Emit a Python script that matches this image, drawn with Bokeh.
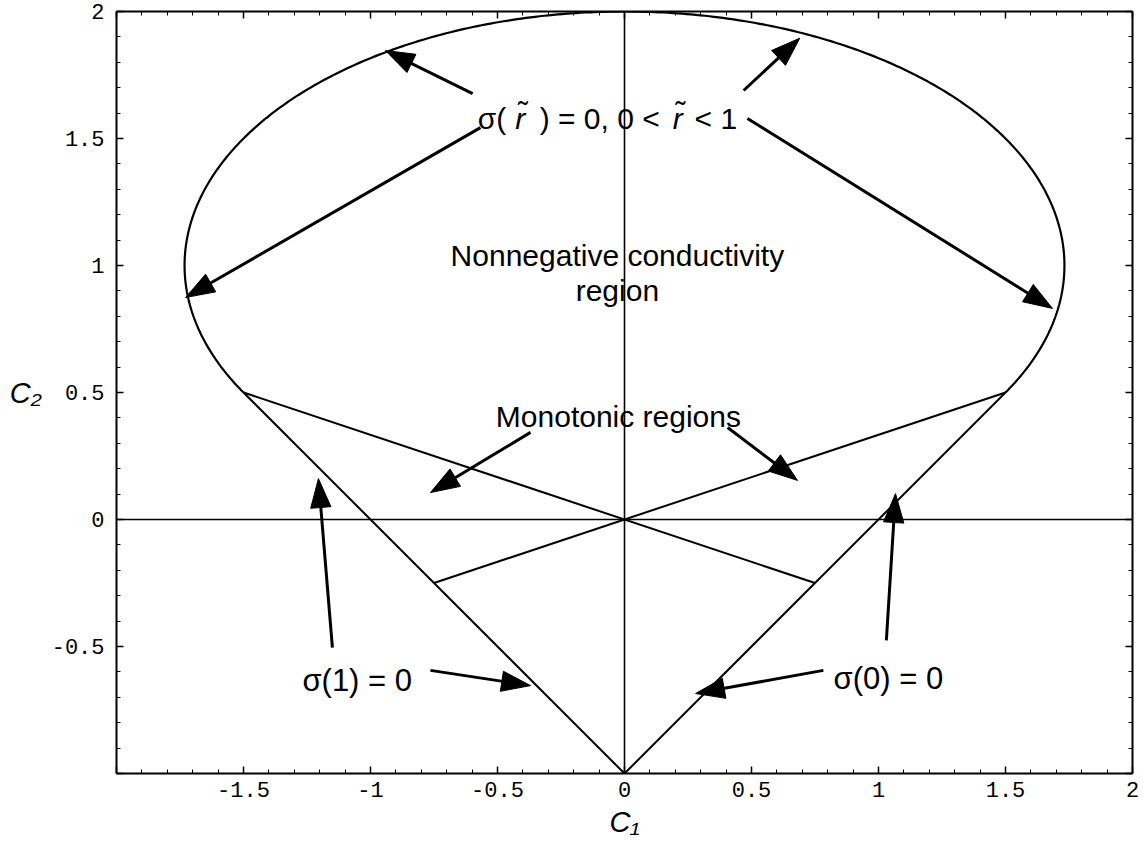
import numpy as np
from bokeh.plotting import figure
from bokeh.models import Label, LinearAxis, FixedTicker, Range1d
from bokeh.embed import file_html
from bokeh.resources import INLINE

# ---- axis ticks -------------------------------------------------------------
x_major = [-2.0, -1.5, -1.0, -0.5, 0.0, 0.5, 1.0, 1.5, 2.0]
x_tick_labels = ["", "-1.5", "-1", "-0.5", "0", "0.5", "1", "1.5", "2"]
y_major = [-1.0, -0.5, 0.0, 0.5, 1.0, 1.5, 2.0]
y_tick_labels = ["", "-0.5", "0", "0.5", "1", "1.5", "2"]
x_minor = [round(v, 1) for v in np.arange(-2.0, 2.05, 0.1)]
y_minor = [round(v, 1) for v in np.arange(-1.0, 2.05, 0.1)]
x_title = "C\u2081"
y_title = "C\u2082"

# ---- region boundaries in the (C1, C2) plane -------------------------------
# envelope of sigma(r)=0, 0<r<1 : ellipse C1^2/3 + (C2-1)^2 = 1
ellipse_center = (0.0, 1.0)
ellipse_semi_axes = (np.sqrt(3.0), 1.0)
ellipse_arc_deg = 120.0          # arc ends at the tangent points (+-1.5, 0.5)

sigma1_x = [-1.5, 0.0]           # sigma(1) = 0
sigma1_y = [0.5, -1.0]
sigma0_x = [1.5, 0.0]            # sigma(0) = 0
sigma0_y = [0.5, -1.0]
mono_a_x = [-1.5, 0.75]          # monotonic-region separators through origin
mono_a_y = [0.5, -0.25]
mono_b_x = [1.5, -0.75]
mono_b_y = [0.5, -0.25]
axis0_x = [[-2.0, 2.0], [0.0, 0.0]]
axis0_y = [[0.0, 0.0], [-1.0, 2.0]]

# ---- annotation arrows (tail -> tip) ---------------------------------------
arrow_tail_x = [-0.598, 0.469, -0.567, 0.484, -0.370, 0.406, -1.150, -0.764, 0.783, 1.031]
arrow_tail_y = [1.677, 1.689, 1.543, 1.579, 0.343, 0.362, -0.504, -0.594, -0.594, -0.476]
arrow_tip_x = [-0.941, 0.690, -1.728, 1.685, -0.764, 0.681, -1.205, -0.370, 0.280, 1.067]
arrow_tip_y = [1.846, 1.895, 0.874, 0.831, 0.106, 0.154, 0.161, -0.654, -0.685, 0.102]
head_length = 0.114
head_half_width = 0.040

FONT = "Liberation Sans"
MONO = "Liberation Mono"

p = figure(frame_width=1016, frame_height=762,
           x_range=Range1d(-2, 2), y_range=Range1d(-1, 2),
           x_axis_location=None, y_axis_location=None,
           output_backend="svg", toolbar_location=None,
           min_border_left=116, min_border_right=11,
           min_border_top=11, min_border_bottom=72)
p.grid.grid_line_color = None
p.outline_line_color = None
p.background_fill_color = "white"
p.border_fill_color = "white"


def make_axis(major, minor, labels, show):
    ax = LinearAxis(ticker=FixedTicker(ticks=major, minor_ticks=minor))
    ax.major_label_overrides = {t: (l if show else "") for t, l in zip(major, labels)}
    ax.axis_line_width = 2
    ax.axis_line_color = "black"
    ax.major_tick_in = 7
    ax.major_tick_out = 0
    ax.minor_tick_in = 4
    ax.minor_tick_out = 0
    ax.major_tick_line_width = 1.5
    ax.minor_tick_line_width = 1
    ax.major_label_text_font = MONO
    ax.major_label_text_color = "black"
    ax.major_label_text_font_size = "22px" if show else "0px"
    ax.major_label_standoff = 10 if show else 0
    ax.axis_label_text_font = FONT
    ax.axis_label_text_font_style = "italic"
    ax.axis_label_text_font_size = "29px"
    ax.axis_label_text_color = "black"
    return ax


xb = make_axis(x_major, x_minor, x_tick_labels, True)
xb.major_label_standoff = 8
xb.axis_label = x_title
xb.axis_label_standoff = 6
yl = make_axis(y_major, y_minor, y_tick_labels, True)
yl.major_label_standoff = 12
yl.axis_label = y_title
yl.axis_label_orientation = "horizontal"
yl.axis_label_standoff = 7
p.add_layout(xb, "below")
p.add_layout(yl, "left")
p.add_layout(make_axis(x_major, x_minor, x_tick_labels, False), "above")
p.add_layout(make_axis(y_major, y_minor, y_tick_labels, False), "right")

# coordinate axes through the origin
p.multi_line(axis0_x, axis0_y, line_color="black", line_width=1.6)

# ellipse arc
theta = np.radians(np.linspace(-ellipse_arc_deg, ellipse_arc_deg, 400))
ex = ellipse_center[0] + ellipse_semi_axes[0] * np.sin(theta)
ey = ellipse_center[1] + ellipse_semi_axes[1] * np.cos(theta)
p.line(ex, ey, line_color="black", line_width=2.2)

for xs, ys in [(sigma1_x, sigma1_y), (sigma0_x, sigma0_y),
               (mono_a_x, mono_a_y), (mono_b_x, mono_b_y)]:
    p.line(xs, ys, line_color="black", line_width=2)

# arrows: shaft up to the head base, filled triangular head
shaft_xs, shaft_ys, head_xs, head_ys = [], [], [], []
for tx, ty, hx, hy in zip(arrow_tail_x, arrow_tail_y, arrow_tip_x, arrow_tip_y):
    dx, dy = hx - tx, hy - ty
    n = np.hypot(dx, dy)
    ux, uy = dx / n, dy / n
    bx, by = hx - head_length * ux, hy - head_length * uy
    nx, ny = -uy, ux
    shaft_xs.append([tx, bx + 0.01 * ux])
    shaft_ys.append([ty, by + 0.01 * uy])
    head_xs.append([hx, bx + head_half_width * nx, bx - head_half_width * nx])
    head_ys.append([hy, by + head_half_width * ny, by - head_half_width * ny])
p.multi_line(shaft_xs, shaft_ys, line_color="black", line_width=3)
p.patches(head_xs, head_ys, fill_color="black", line_color="black", line_width=1)


def label(x, y, text, size="30px", style="normal", align="left", font=FONT, dy=0):
    p.add_layout(Label(x=x, y=y, y_offset=dy, text=text, text_font=font,
                       text_font_size=size, text_font_style=style,
                       text_align=align, text_baseline="alphabetic",
                       text_color="black"))


# sigma(r~) = 0, 0 < r~ < 1   (tilde drawn over the italic r)
sig_y = 1.579
label(-0.578, sig_y, "σ(")
label(-0.430, sig_y, "r", style="italic")
label(-0.400, sig_y, "\u02dc", align="center", dy=7)
label(-0.334, sig_y, ") = 0, 0 <")
label(0.190, sig_y, "r", style="italic")
label(0.220, sig_y, "\u02dc", align="center", dy=7)
label(0.276, sig_y, "< 1")

label(-0.028, 1.039, "Nonnegative conductivity", align="center")
label(-0.028, 0.902, "region", align="center")
label(-0.024, 0.406, "Monotonic regions", align="center")
label(-1.268, -0.634, "σ(1) = 0", size="31px")
label(0.823, -0.626, "σ(0) = 0", size="31px")

open("out.html", "w").write(file_html(p, INLINE))
